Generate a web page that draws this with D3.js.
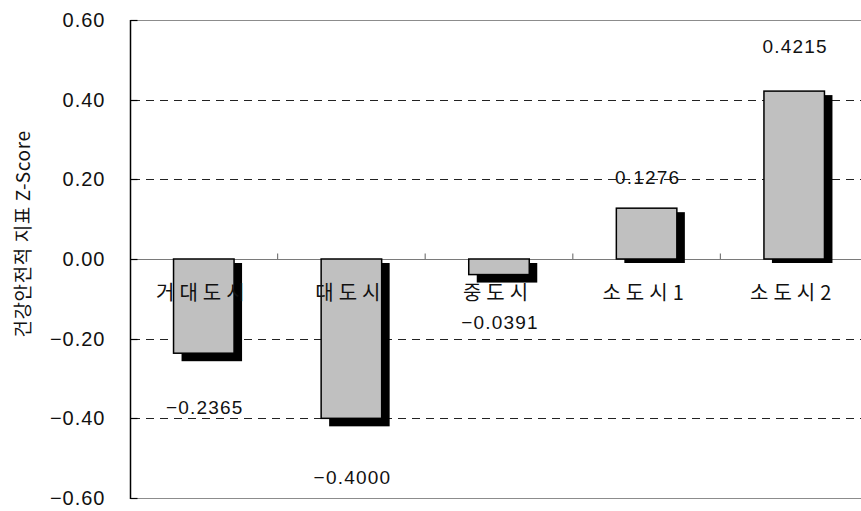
<!DOCTYPE html>
<html>
<head>
<meta charset="utf-8">
<script src="https://cdn.jsdelivr.net/npm/d3@7"></script>
<style>
  html, body { margin: 0; padding: 0; background: #fff; overflow: hidden; }
  svg { display: block; }
  text { font-family: "Liberation Sans", Arial, "Noto Sans CJK KR", sans-serif; fill: #111; }
  .kr { font-family: "Noto Sans CJK KR", "Liberation Sans", sans-serif; }
</style>
</head>
<body>
<svg id="chart" width="861" height="511"></svg>
<script>
// City-size groups and their health-safety index Z-scores
const categories = ["거대도시", "대도시", "중도시", "소도시1", "소도시2"];
const zScores = [-0.2365, -0.4000, -0.0391, 0.1276, 0.4215];
const yTicks = [-0.6, -0.4, -0.2, 0, 0.2, 0.4, 0.6];
const yTitle = "건강안전적 지표 Z-Score";

// Vertical gap (px) between each bar end and its value label
const labelGap = [61, 66, 54, 24, 38];

const svg = d3.select("#chart");
const plotLeft = 130, plotRight = 868, plotTop = 20, plotBottom = 498;

const x = d3.scaleBand()
  .domain(categories)
  .range([plotLeft, plotRight])
  .paddingInner(0.59)
  .paddingOuter(0.295);

const y = d3.scaleLinear().domain([-0.6, 0.6]).range([plotBottom, plotTop]);
const fmtTick = d3.format(".2f");
const fmtVal = d3.format(".4f");

// dashed gridlines
svg.append("g")
  .selectAll("line")
  .data(yTicks.filter(t => Math.abs(t) > 1e-9 && Math.abs(t) < 0.59))
  .join("line")
  .attr("x1", plotLeft).attr("x2", plotRight)
  .attr("y1", d => Math.round(y(d)) + 0.5).attr("y2", d => Math.round(y(d)) + 0.5)
  .attr("stroke", "#222").attr("stroke-width", 1)
  .attr("stroke-dasharray", "8,6").attr("stroke-dashoffset", -2);

// top and bottom frame lines
[plotTop, plotBottom].forEach(v => {
  svg.append("line")
    .attr("x1", plotLeft).attr("x2", plotRight)
    .attr("y1", v + 0.5).attr("y2", v + 0.5)
    .attr("stroke", "#8c8c8c").attr("stroke-width", 1.2);
});

// zero line with category divider ticks
const y0 = Math.round(y(0)) + 0.5;
svg.append("line")
  .attr("x1", plotLeft).attr("x2", plotRight)
  .attr("y1", y0).attr("y2", y0)
  .attr("stroke", "#7a7a7a").attr("stroke-width", 1.2);
svg.append("g")
  .selectAll("line")
  .data(categories.slice(1))
  .join("line")
  .attr("x1", d => x(d) - x.step() * x.paddingInner() / 2)
  .attr("x2", d => x(d) - x.step() * x.paddingInner() / 2)
  .attr("y1", y0).attr("y2", y0 - 6)
  .attr("stroke", "#7a7a7a").attr("stroke-width", 1.2);

// bar shadows
const bars = svg.append("g");
bars.selectAll("rect.shadow")
  .data(zScores)
  .join("rect")
  .attr("class", "shadow")
  .attr("x", (d, i) => x(categories[i]) + 8)
  .attr("y", d => Math.min(y(d), y(0)) + 4)
  .attr("width", x.bandwidth())
  .attr("height", d => Math.abs(y(d) - y(0)) + (d < 0 ? 4 : 0))
  .attr("fill", "#000");

// bars
bars.selectAll("rect.bar")
  .data(zScores)
  .join("rect")
  .attr("class", "bar")
  .attr("x", (d, i) => x(categories[i]))
  .attr("y", d => Math.min(y(d), y(0)))
  .attr("width", x.bandwidth())
  .attr("height", d => Math.abs(y(d) - y(0)))
  .attr("fill", "#c0c0c0")
  .attr("stroke", "#000")
  .attr("stroke-width", 1.5);

// category labels (drawn over the bars)
svg.append("g")
  .selectAll("text")
  .data(categories)
  .join("text")
  .attr("class", "kr")
  .attr("x", d => x(d) + x.bandwidth() / 2 - 1)
  .attr("y", 300)
  .attr("text-anchor", "middle")
  .attr("font-size", 20)
  .attr("letter-spacing", 5)
  .text(d => d);

// value labels
svg.append("g")
  .selectAll("text")
  .data(zScores)
  .join("text")
  .attr("x", (d, i) => x(categories[i]) + x.bandwidth() / 2 + 1)
  .attr("y", (d, i) => d < 0 ? y(d) + labelGap[i] : y(d) - labelGap[i])
  .attr("text-anchor", "middle")
  .attr("font-size", 19)
  .attr("letter-spacing", 1.2)
  .text(d => fmtVal(d));

// left axis
const yAxis = svg.append("g").attr("transform", `translate(${plotLeft + 0.5},0)`);
yAxis.append("line")
  .attr("x1", 0).attr("x2", 0)
  .attr("y1", plotTop).attr("y2", plotBottom + 1)
  .attr("stroke", "#000").attr("stroke-width", 1.5);
yAxis.selectAll("line.tick")
  .data(yTicks)
  .join("line")
  .attr("class", "tick")
  .attr("x1", 0).attr("x2", 7)
  .attr("y1", d => Math.round(y(d)) + 0.5).attr("y2", d => Math.round(y(d)) + 0.5)
  .attr("stroke", "#000").attr("stroke-width", 1.2);
yAxis.selectAll("text")
  .data(yTicks)
  .join("text")
  .attr("x", -25)
  .attr("y", d => y(d))
  .attr("dy", "0.35em")
  .attr("text-anchor", "end")
  .attr("font-size", 20)
  .attr("letter-spacing", 1)
  .text(d => fmtTick(d));

// axis title
svg.append("text")
  .attr("class", "kr")
  .attr("transform", "translate(30,234) rotate(-90)")
  .attr("text-anchor", "middle")
  .attr("font-size", 19)
  .attr("letter-spacing", 0.6)
  .text(yTitle);
</script>
</body>
</html>
